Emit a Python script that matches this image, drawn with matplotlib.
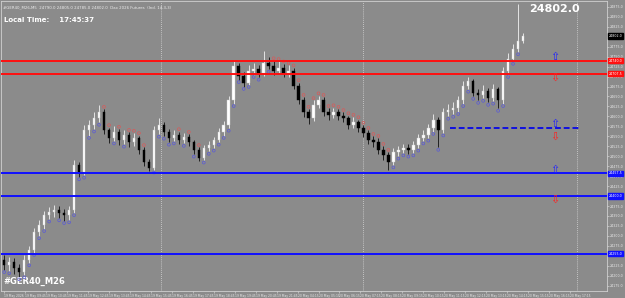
import numpy as np
import matplotlib
matplotlib.use("Agg")
import matplotlib.pyplot as plt

# candle data (GER40)
closes = [24227.5, 24235, 24220, 24210, 24240, 24265, 24310, 24327.5, 24352.5, 24360,
          24365, 24357.5, 24352.5, 24365, 24477.5, 24460, 24565, 24577.5, 24595, 24610,
          24565, 24545, 24560, 24540, 24552.5, 24535, 24545, 24515, 24485, 24470,
          24565, 24577.5, 24560, 24545, 24552.5, 24540, 24547.5, 24535, 24515, 24495,
          24520, 24527.5, 24540, 24560, 24577.5, 24640, 24727.5, 24702.5, 24685, 24715,
          24720, 24710, 24735, 24727.5, 24715, 24722.5, 24710, 24715, 24677.5, 24640,
          24610, 24595, 24627.5, 24640, 24610, 24602.5, 24610, 24600, 24595, 24577.5,
          24585, 24570, 24557.5, 24540, 24535, 24515, 24502.5, 24485, 24510, 24515,
          24520, 24515, 24527.5, 24545, 24552.5, 24570, 24590, 24565, 24610, 24615,
          24620, 24640, 24677.5, 24690, 24660, 24652.5, 24665, 24645, 24670, 24640,
          24715, 24745, 24770, 24790, 24802]
highs = [24252, 24248, 24245, 24230, 24252, 24275, 24320, 24340, 24362, 24372,
         24378, 24375, 24368, 24375, 24490, 24485, 24578, 24592, 24610, 24628,
         24618, 24572, 24575, 24568, 24565, 24560, 24558, 24552, 24522, 24492,
         24575, 24595, 24585, 24568, 24565, 24562, 24558, 24555, 24540, 24522,
         24528, 24538, 24548, 24570, 24588, 24652, 24742, 24735, 24712, 24728,
         24735, 24730, 24765, 24748, 24740, 24738, 24732, 24728, 24722, 24685,
         24648, 24618, 24640, 24652, 24648, 24620, 24622, 24618, 24610, 24602,
         24598, 24592, 24578, 24565, 24550, 24545, 24525, 24510, 24520, 24525,
         24530, 24530, 24538, 24555, 24565, 24582, 24605, 24598, 24622, 24630,
         24635, 24652, 24690, 24700, 24695, 24668, 24678, 24672, 24682, 24675,
         24725, 24758, 24782, 24882, 24810]
lows = [24215, 24212, 24205, 24197, 24202, 24232, 24258, 24300, 24318, 24342,
        24348, 24345, 24338, 24340, 24358, 24448, 24452, 24552, 24568, 24585,
        24555, 24532, 24538, 24528, 24530, 24522, 24525, 24505, 24475, 24462,
        24465, 24555, 24550, 24535, 24538, 24530, 24532, 24525, 24505, 24488,
        24490, 24512, 24520, 24535, 24552, 24570, 24632, 24692, 24675, 24680,
        24705, 24698, 24702, 24718, 24705, 24708, 24700, 24700, 24668, 24630,
        24598, 24580, 24588, 24620, 24600, 24592, 24595, 24590, 24585, 24568,
        24570, 24560, 24548, 24530, 24522, 24505, 24490, 24465, 24478, 24500,
        24508, 24505, 24508, 24520, 24538, 24545, 24562, 24522, 24558, 24600,
        24605, 24612, 24632, 24668, 24650, 24640, 24645, 24635, 24638, 24620,
        24632, 24705, 24738, 24762, 24785]
first_open = 24240

# indicator dots below (blue) / above (red) the bars
blue_idx = [0, 1, 3, 4, 5, 6, 7, 8, 9, 11, 12, 13, 14, 15, 16, 17, 18, 19, 22, 24,
            30, 31, 32, 33, 34, 36, 38, 40, 41, 42, 43, 44, 45, 46, 47, 48, 49, 50, 51, 53,
            78, 79, 80, 81, 82, 83, 84, 85, 86, 87, 88, 89, 90, 91, 92, 93, 94, 95, 96,
            97, 98, 99, 100, 101, 102, 103]
red_idx = [20, 21, 23, 25, 26, 27, 28, 35, 37, 39, 54, 55, 56, 57, 58, 59, 60, 61, 62,
           63, 64, 65, 66, 67, 68, 69, 70, 71, 72, 73, 74, 75, 76, 77]

# support / resistance levels
red_levels = [24740, 24707.5]
blue_levels = [24457.5, 24400, 24255]
dashed_level = 24570
dashed_span = (89.4, 115.5)
up_arrows = [24750, 24582, 24465]
down_arrows = [24697, 24550, 24390]
arrow_x = 110.4
separators = [31.4, 72.0, 114.8]

last_price = 24802.0
time_labels = ["19 May 2026", "19 May 09:45", "19 May 10:45", "19 May 11:45", "19 May 12:45",
               "19 May 13:45", "19 May 14:45", "19 May 15:45", "19 May 16:45", "19 May 17:45",
               "19 May 18:45", "19 May 19:45", "19 May 20:45", "19 May 21:45", "20 May 04:15",
               "20 May 05:15", "20 May 06:15", "20 May 07:15", "20 May 08:15", "20 May 09:15",
               "20 May 10:15", "20 May 11:15", "20 May 12:15", "20 May 13:15", "20 May 14:15",
               "20 May 15:15", "20 May 16:15", "20 May 17:15"]
price_ticks = np.arange(24175, 24890, 25)

bg = "#8b8b8b"
fig = plt.figure(figsize=(6.25, 2.98), dpi=100, facecolor=bg)
ax = fig.add_axes([0.002, 0.024, 0.969, 0.973], facecolor=bg)

opens = [first_open] + closes[:-1]
x = np.arange(len(closes))
for i in x:
    o, c, h, l = opens[i], closes[i], highs[i], lows[i]
    up = c >= o
    body_col = "white" if up else "black"
    wick_col = "#f2f2f2" if up else "#111111"
    ax.vlines(i, l, h, color=wick_col, lw=0.6, zorder=3)
    ax.bar(i, max(abs(c - o), 1.5), bottom=min(o, c), width=0.5,
           color=body_col, edgecolor="#cfcfcf" if up else "black", lw=0.3, zorder=4)

ax.scatter(x[blue_idx], np.array(lows)[blue_idx] - 6, s=4, facecolor="none",
           edgecolor="#5a5ad8", lw=0.5, zorder=5)
ax.scatter(x[red_idx], np.array(highs)[red_idx] + 6, s=4, facecolor="none",
           edgecolor="#d85a5a", lw=0.5, zorder=5)

for s in separators:
    ax.axvline(s, color="#d8d8d8", lw=0.6, ls=(0, (1, 1.5)), zorder=1)

for lv in red_levels:
    ax.axhline(lv, color="#ff1010", lw=1.4, zorder=6)
for lv in blue_levels:
    ax.axhline(lv, color="#1010ff", lw=1.4, zorder=6)
ax.hlines(dashed_level, *dashed_span, color="#1010e0", lw=1.4, ls=(0, (3, 1.5)), zorder=6)

for p in up_arrows:
    ax.text(arrow_x, p, "\u21e7", color="#2020ff", fontsize=8, ha="center", va="center", zorder=7)
for p in down_arrows:
    ax.text(arrow_x, p, "\u21e9", color="#ff2020", fontsize=8, ha="center", va="center", zorder=7)

ax.set_xlim(-0.6, 120.8)
ax.set_ylim(24162, 24890)

# right price scale
ax.yaxis.tick_right()
ax.set_yticks(price_ticks)
ax.set_yticklabels([f"{p:.1f}" for p in price_ticks], fontsize=2.3, color="#e8e8e8")
ax.tick_params(axis="y", length=1.5, width=0.4, color="#e0e0e0", pad=0.8)
for lv, col in [(l, "#ff1010") for l in red_levels] + [(l, "#1010ff") for l in blue_levels] + [(last_price, "black")]:
    ax.annotate(f"{lv:.1f}", xy=(1.0, lv), xycoords=("axes fraction", "data"),
                xytext=(1.5, 0), textcoords="offset points", fontsize=2.3, color="white",
                va="center", ha="left", bbox=dict(boxstyle="square,pad=0.2", fc=col, ec=col))

# bottom time scale
ax.set_xticks(np.arange(0, 4.2 * len(time_labels), 4.2))
ax.set_xticklabels(time_labels, fontsize=2.2, color="#e8e8e8", ha="left")
ax.tick_params(axis="x", length=1.5, width=0.4, color="#e0e0e0", pad=0.5)
for sp in ax.spines.values():
    sp.set_color("#d0d0d0")
    sp.set_linewidth(0.6)

ax.text(0.003, 0.985, "#GER40_M26,M5  24790.0 24805.0 24785.0 24802.0  Dax 2026 Futures  (Ind. 14,3,3)",
        transform=ax.transAxes, fontsize=2.8, color="#ececec", va="top")
ax.text(0.005, 0.945, "Local Time:    17:45:37", transform=ax.transAxes, fontsize=5,
        color="white", fontweight="bold", va="top")
ax.text(0.955, 0.99, f"{last_price:.1f}", transform=ax.transAxes, fontsize=8,
        color="white", fontweight="bold", va="top", ha="right")
ax.text(0.003, 0.015, "#GER40_M26", transform=ax.transAxes, fontsize=6,
        color="white", fontweight="bold", va="bottom")

fig.savefig("out.png", dpi=100, facecolor=bg)
